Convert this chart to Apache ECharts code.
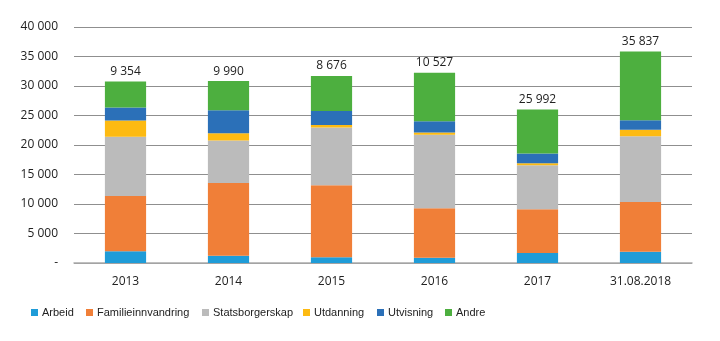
<!DOCTYPE html>
<html><head><meta charset="utf-8">
<script src="https://cdn.jsdelivr.net/npm/echarts@6/dist/echarts.min.js"></script>
<style>html,body{margin:0;padding:0;background:#fff}#c{width:720px;height:341px}</style>
</head><body><div id="c"></div>
<script>
const categories = ['2013','2014','2015','2016','2017','31.08.2018'];
const arbeid = [1990, 1240, 970, 910, 1700, 1920];
const familie = [9380, 12330, 12210, 8370, 7410, 8430];
const stats = [10010, 7190, 9790, 12440, 7470, 11150];
const utdanning = [2770, 1240, 400, 400, 340, 1070];
const utvisning = [2200, 3910, 2380, 1920, 1640, 1640];
const andre = [4420, 4920, 5940, 8200, 7440, 11630];
const topLabels = ['9 354', '9 990', '8 676', '10 527', '25 992', '35 837'];
const yTicks = [0, 5000, 10000, 15000, 20000, 25000, 30000, 35000, 40000];

const names = ['Arbeid','Familieinnvandring','Statsborgerskap','Utdanning','Utvisning','Andre'];
const colors = ['#1f9cd8','#f07f38','#bbbbbb','#fdba12','#2b70b8','#4daf3f'];
const values = [arbeid, familie, stats, utdanning, utvisning, andre];
const legendLeft = [31, 86, 202, 303, 377, 445];
const font = '"Open Sans", sans-serif';
const narrow = '"Liberation Sans", sans-serif';

const fmt = v => v === 0 ? '-' : String(v).replace(/\B(?=(\d{3})+(?!\d))/g, ' ');

const series = names.map((n, i) => ({
  name: n, type: 'bar', stack: 'total', barWidth: '40%',
  itemStyle: { color: colors[i] },
  data: values[i],
  label: i === names.length - 1 ? {
    show: true, position: 'top', distance: 4,
    formatter: p => topLabels[p.dataIndex],
    color: '#222', fontSize: 12, fontFamily: font
  } : { show: false }
}));

const legends = names.map((n, i) => ({
  data: [n], left: legendLeft[i], top: 307,
  itemWidth: 7, itemHeight: 7, icon: 'rect',
  textStyle: { color: '#222', fontSize: 11, fontFamily: narrow, padding: [0, 0, 0, -1] },
  itemGap: 0, padding: 0
}));

const chart = echarts.init(document.getElementById('c'), null, { renderer: 'canvas' });
chart.setOption({
  animation: false,
  grid: { left: 74, right: 28, top: 27, bottom: 78 },
  legend: legends,
  xAxis: {
    type: 'category', data: categories,
    axisLine: { lineStyle: { color: '#aaaaaa', width: 1.5 } },
    axisTick: { show: false },
    axisLabel: { color: '#222', fontSize: 12, fontFamily: font, margin: 13 }
  },
  yAxis: {
    type: 'value', min: yTicks[0], max: yTicks[yTicks.length - 1], interval: 5000,
    axisLine: { show: false }, axisTick: { show: false },
    splitLine: { lineStyle: { color: '#8f8f8f', width: 1 } },
    axisLabel: { color: '#222', fontSize: 12, fontFamily: font, margin: 16, formatter: fmt }
  },
  series
});
</script></body></html>
